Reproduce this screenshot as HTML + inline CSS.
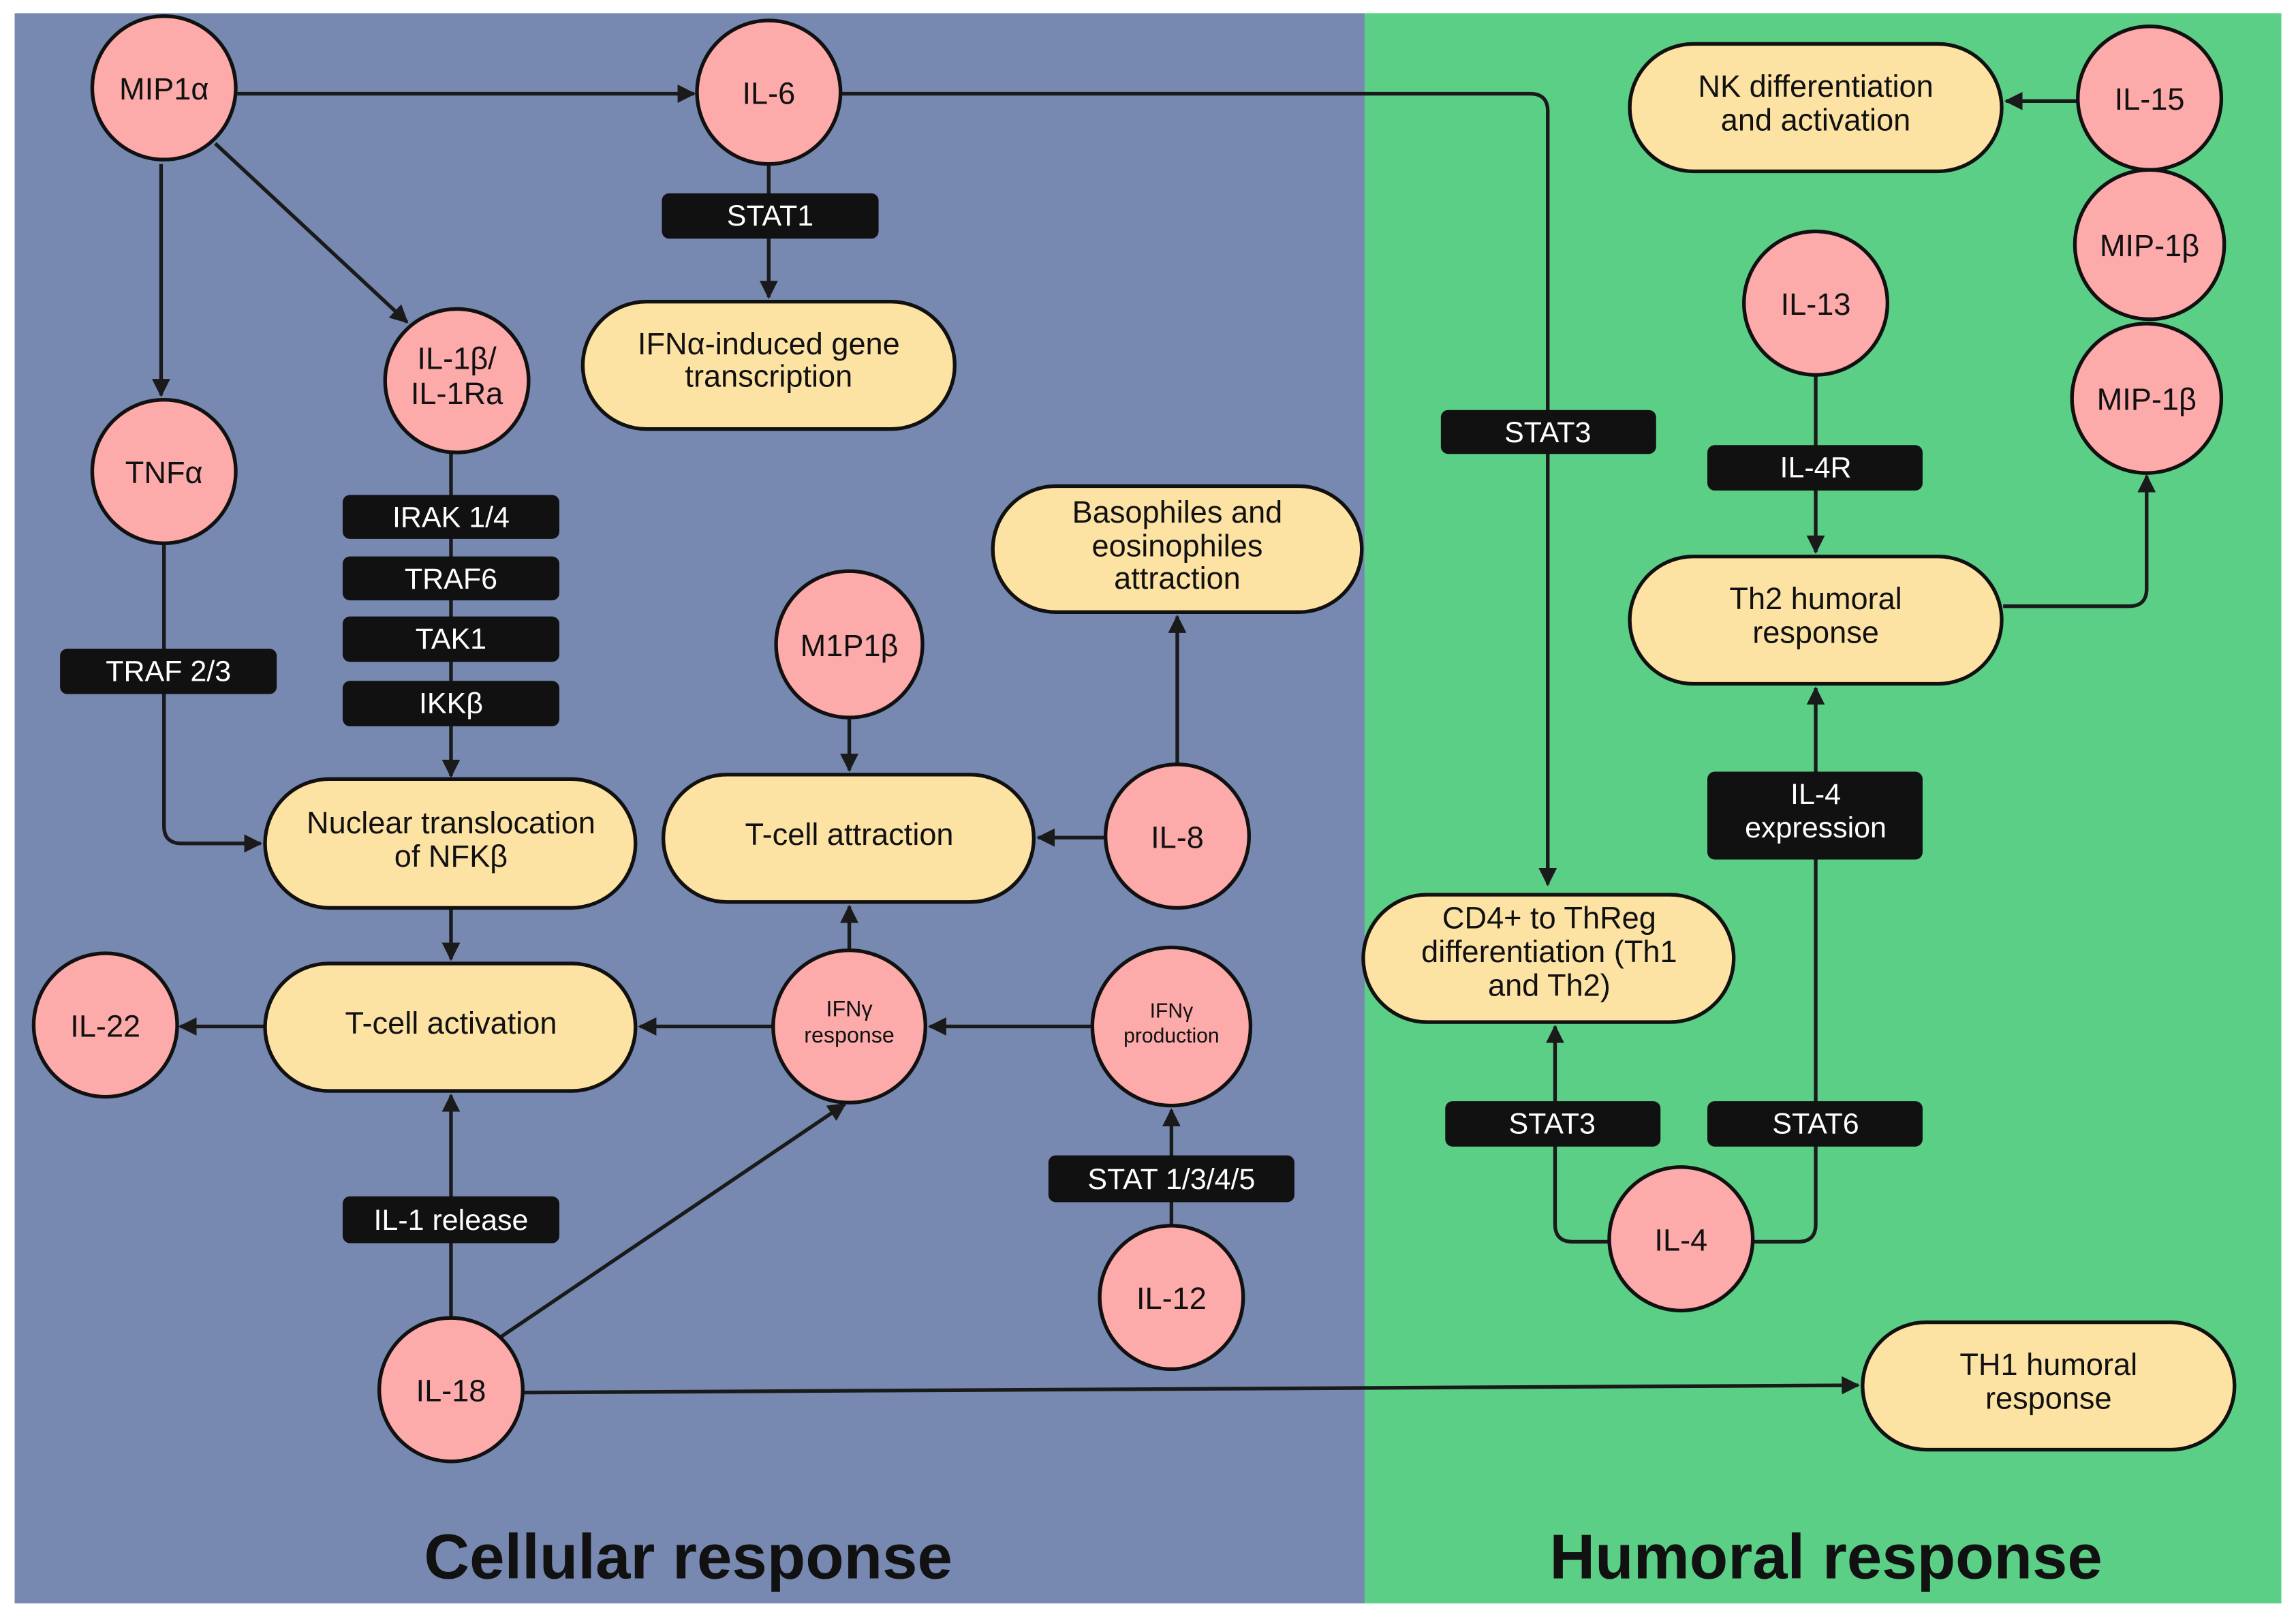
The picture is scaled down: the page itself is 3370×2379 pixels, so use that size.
<!DOCTYPE html>
<html><head><meta charset="utf-8"><style>html,body{margin:0;padding:0;background:#fff}svg{display:block}</style></head>
<body>
<svg width="3370" height="2379" viewBox="0 0 1568 1107" preserveAspectRatio="none" xmlns="http://www.w3.org/2000/svg" font-family="Liberation Sans, Arial, sans-serif">
<defs>
<marker id="a" viewBox="0 0 10 10" refX="9" refY="5" markerWidth="5" markerHeight="5" orient="auto-start-reverse" markerUnits="strokeWidth">
<path d="M0,0 L10,5 L0,10 z" fill="#1a1a1a"/></marker>
</defs>
<rect x="0" y="0" width="1568" height="1107" fill="#fff"/>
<rect x="10" y="9" width="922" height="1086" fill="#7789b0"/>
<rect x="932" y="9" width="626" height="1086" fill="#5ccf87"/>

<g stroke="#1a1a1a" stroke-width="2.5" fill="none">
<line x1="162" y1="64" x2="474" y2="64" marker-end="url(#a)"/>
<line x1="110" y1="112" x2="110" y2="270" marker-end="url(#a)"/>
<line x1="147" y1="98" x2="278" y2="220" marker-end="url(#a)"/>
<line x1="525" y1="111" x2="525" y2="203" marker-end="url(#a)"/>
<path d="M574,64 H1045 Q1057,64 1057,76 V604" marker-end="url(#a)"/>
<path d="M112,370 V564 Q112,576 124,576 H178" marker-end="url(#a)"/>
<line x1="308" y1="308" x2="308" y2="530" marker-end="url(#a)"/>
<line x1="308" y1="620" x2="308" y2="655" marker-end="url(#a)"/>
<line x1="181" y1="701" x2="123" y2="701" marker-end="url(#a)"/>
<line x1="580" y1="489" x2="580" y2="526" marker-end="url(#a)"/>
<line x1="756" y1="572" x2="709" y2="572" marker-end="url(#a)"/>
<line x1="804" y1="523" x2="804" y2="421" marker-end="url(#a)"/>
<line x1="580" y1="648" x2="580" y2="619" marker-end="url(#a)"/>
<line x1="528" y1="701" x2="437" y2="701" marker-end="url(#a)"/>
<line x1="746" y1="701" x2="635" y2="701" marker-end="url(#a)"/>
<line x1="800" y1="838" x2="800" y2="758" marker-end="url(#a)"/>
<line x1="308" y1="900" x2="308" y2="748" marker-end="url(#a)"/>
<line x1="342" y1="913" x2="577" y2="754" marker-end="url(#a)"/>
<line x1="357" y1="951" x2="1269" y2="946" marker-end="url(#a)"/>
<line x1="1420" y1="69" x2="1370" y2="69" marker-end="url(#a)"/>
<path d="M1368,414 H1454 Q1466,414 1466,402 V325" marker-end="url(#a)"/>
<line x1="1240" y1="255" x2="1240" y2="377" marker-end="url(#a)"/>
<path d="M1100,848 H1074 Q1062,848 1062,836 V701" marker-end="url(#a)"/>
<path d="M1197,848 H1228 Q1240,848 1240,836 V470" marker-end="url(#a)"/>
</g>

<g fill="#fdaaaa" stroke="#111" stroke-width="2.5">
<circle cx="112" cy="60" r="49"/>
<circle cx="525" cy="63" r="49"/>
<circle cx="112" cy="322" r="49"/>
<circle cx="312" cy="260" r="49"/>
<circle cx="580" cy="440" r="50"/>
<circle cx="804" cy="571" r="49"/>
<circle cx="580" cy="701" r="52"/>
<circle cx="800" cy="701" r="54"/>
<circle cx="72" cy="700" r="49"/>
<circle cx="800" cy="886" r="49"/>
<circle cx="308" cy="949" r="49"/>
<circle cx="1468" cy="67" r="49"/>
<circle cx="1468" cy="167" r="51"/>
<circle cx="1466" cy="272" r="51"/>
<circle cx="1240" cy="207" r="49"/>
<circle cx="1148" cy="846" r="49"/>
</g>

<g fill="#fde3a3" stroke="#111" stroke-width="2.5">
<rect x="398" y="206" width="254" height="87" rx="43.5"/>
<rect x="678" y="332" width="252" height="86" rx="43"/>
<rect x="181" y="532" width="253" height="88" rx="44"/>
<rect x="453" y="529" width="253" height="87" rx="43.5"/>
<rect x="181" y="658" width="253" height="87" rx="43.5"/>
<rect x="1113" y="30" width="254" height="87" rx="43.5"/>
<rect x="1113" y="380" width="254" height="87" rx="43.5"/>
<rect x="931" y="611" width="253" height="87" rx="43.5"/>
<rect x="1272" y="903" width="254" height="87" rx="43.5"/>
</g>

<g fill="#111">
<rect x="452" y="132" width="148" height="31" rx="5"/>
<rect x="234" y="338" width="148" height="30" rx="5"/>
<rect x="234" y="380" width="148" height="30" rx="5"/>
<rect x="234" y="421" width="148" height="31" rx="5"/>
<rect x="234" y="465" width="148" height="31" rx="5"/>
<rect x="41" y="443" width="148" height="31" rx="5"/>
<rect x="984" y="280" width="147" height="30" rx="5"/>
<rect x="1166" y="304" width="147" height="31" rx="5"/>
<rect x="1166" y="527" width="147" height="60" rx="5"/>
<rect x="987" y="752" width="147" height="31" rx="5"/>
<rect x="1166" y="752" width="147" height="31" rx="5"/>
<rect x="716" y="789" width="168" height="32" rx="5"/>
<rect x="234" y="817" width="148" height="32" rx="5"/>
</g>

<g fill="#111" font-size="21" text-anchor="middle">
<text x="112" y="68">MIP1α</text>
<text x="525" y="71">IL-6</text>
<text x="112" y="330">TNFα</text>
<text x="312" y="252">IL-1β/</text>
<text x="312" y="276">IL-1Ra</text>
<text x="580" y="448">M1P1β</text>
<text x="804" y="579">IL-8</text>
<text x="580" y="694" font-size="15">IFNγ</text>
<text x="580" y="712" font-size="15">response</text>
<text x="800" y="695" font-size="14">IFNγ</text>
<text x="800" y="712" font-size="14">production</text>
<text x="72" y="708">IL-22</text>
<text x="800" y="894">IL-12</text>
<text x="308" y="957">IL-18</text>
<text x="1468" y="75">IL-15</text>
<text x="1468" y="175">MIP-1β</text>
<text x="1466" y="280">MIP-1β</text>
<text x="1240" y="215">IL-13</text>
<text x="1148" y="854">IL-4</text>

<text x="525" y="242">IFNα-induced gene</text>
<text x="525" y="264">transcription</text>
<text x="804" y="357">Basophiles and</text>
<text x="804" y="380">eosinophiles</text>
<text x="804" y="402">attraction</text>
<text x="308" y="569">Nuclear translocation</text>
<text x="308" y="592">of NFKβ</text>
<text x="580" y="577">T-cell attraction</text>
<text x="308" y="706">T-cell activation</text>
<text x="1240" y="66">NK differentiation</text>
<text x="1240" y="89">and activation</text>
<text x="1240" y="416">Th2 humoral</text>
<text x="1240" y="439">response</text>
<text x="1058" y="634">CD4+ to ThReg</text>
<text x="1058" y="657">differentiation (Th1</text>
<text x="1058" y="680">and Th2)</text>
<text x="1399" y="939">TH1 humoral</text>
<text x="1399" y="962">response</text>
</g>

<g fill="#fff" font-size="20" text-anchor="middle">
<text x="526" y="154">STAT1</text>
<text x="308" y="360">IRAK 1/4</text>
<text x="308" y="402">TRAF6</text>
<text x="308" y="443">TAK1</text>
<text x="308" y="487">IKKβ</text>
<text x="115" y="465">TRAF 2/3</text>
<text x="1057" y="302">STAT3</text>
<text x="1240" y="326">IL-4R</text>
<text x="1240" y="549">IL-4</text>
<text x="1240" y="572">expression</text>
<text x="1060" y="774">STAT3</text>
<text x="1240" y="774">STAT6</text>
<text x="800" y="812">STAT 1/3/4/5</text>
<text x="308" y="840">IL-1 release</text>
</g>

<g fill="#111" font-size="43" font-weight="bold" text-anchor="middle">
<text x="470" y="1078">Cellular response</text>
<text x="1247" y="1078">Humoral response</text>
</g>
</svg>
</body></html>
